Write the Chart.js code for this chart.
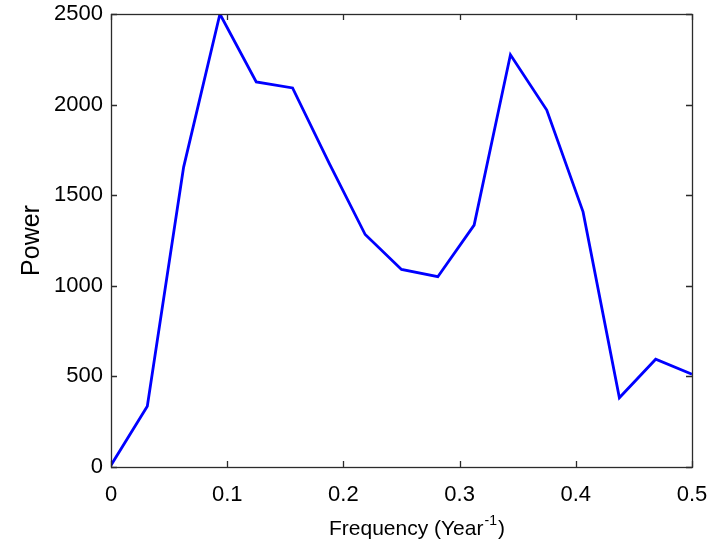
<!DOCTYPE html>
<html>
<head>
<meta charset="utf-8">
<script src="https://cdn.jsdelivr.net/npm/chart.js@4.4.1/dist/chart.umd.min.js"></script>
<style>
    html,body{margin:0;padding:0;background:#fff;}
    #wrap{width:718px;height:544px;position:relative;}
</style>
</head>
<body>
<div id="wrap"><canvas id="powerChart" width="718" height="544"></canvas></div>
<script>

// =============================
// DATA
// =============================

const frequency = [
    0, 0.03125, 0.0625, 0.09375, 0.125, 0.15625, 0.1875, 0.21875, 0.25,
    0.28125, 0.3125, 0.34375, 0.375, 0.40625, 0.4375, 0.46875, 0.5
];

const power = [
    10, 335, 1655, 2500, 2125, 2092, 1680, 1283, 1090,
    1050, 1335, 2275, 1970, 1408, 382, 595, 512
];

const xTicks = [0, 0.1, 0.2, 0.3, 0.4, 0.5];
const yTicks = [0, 500, 1000, 1500, 2000, 2500];

const xTitle = "Frequency (Year";
const xTitleSup = "-1";
const yTitle = "Power";

const axisColor = "#2b2b2b";
const lineColor = "#0000ff";
const tickFont = "Liberation Sans, Arial, sans-serif";

// =============================
// BOX + INWARD TICKS + TITLES
// =============================

const matlabAxes = {

    id:"matlabAxes",

    afterDatasetsDraw(chart){

        const ctx = chart.ctx;
        const a = chart.chartArea;
        const xs = chart.scales.x;
        const ys = chart.scales.y;

        ctx.save();

        ctx.strokeStyle = axisColor;
        ctx.lineWidth = 1.3;

        ctx.strokeRect(a.left + .5, a.top + .5, a.right - a.left, a.bottom - a.top);

        const len = 6;

        ctx.beginPath();

        xTicks.forEach(v=>{
            const px = Math.round(xs.getPixelForValue(v)) + .5;
            ctx.moveTo(px, a.bottom);
            ctx.lineTo(px, a.bottom - len);
            ctx.moveTo(px, a.top);
            ctx.lineTo(px, a.top + len);
        });

        yTicks.forEach(v=>{
            const py = Math.round(ys.getPixelForValue(v)) + .5;
            ctx.moveTo(a.left, py);
            ctx.lineTo(a.left + len, py);
            ctx.moveTo(a.right, py);
            ctx.lineTo(a.right - len, py);
        });

        ctx.stroke();

        // y title
        ctx.fillStyle = "#000";
        ctx.font = "25px " + tickFont;
        ctx.textAlign = "center";
        ctx.textBaseline = "alphabetic";
        ctx.translate(39, (a.top + a.bottom) / 2);
        ctx.rotate(-Math.PI / 2);
        ctx.fillText(yTitle, 0, 0);
        ctx.setTransform(1,0,0,1,0,0);

        // x title with superscript
        let x0 = 329;
        const base = 535;

        ctx.textAlign = "left";
        ctx.font = "21px " + tickFont;
        const w1 = ctx.measureText(xTitle).width;
        ctx.fillText(xTitle, x0, base);
        x0 += w1 + 1;
        ctx.font = "14px " + tickFont;
        const w2 = ctx.measureText(xTitleSup).width;
        ctx.fillText(xTitleSup, x0, base - 10);
        x0 += w2 + 1;
        ctx.font = "21px " + tickFont;
        ctx.fillText(")", x0, base);

        ctx.restore();

    }

};

// =============================
// CHART
// =============================

const ctx = document.getElementById("powerChart").getContext("2d");

new Chart(ctx,{

    type:"scatter",

    data:{

        datasets:[{

            data:frequency.map((f,i)=>({x:f, y:power[i]})),

            showLine:true,

            borderColor:lineColor,

            borderWidth:2.8,

            tension:0,

            pointRadius:0,

            fill:false

        }]

    },

    options:{

        responsive:false,

        animation:false,

        events:[],

        layout:{
            padding:{left:0, top:14, right:26, bottom:0}
        },

        plugins:{
            legend:{display:false},
            tooltip:{enabled:false}
        },

        scales:{

            x:{

                type:"linear",

                min:0,

                max:0.5,

                afterBuildTicks(s){
                    s.ticks = xTicks.map(v=>({value:v}));
                },

                afterFit(s){
                    s.height = 77;
                    s.paddingLeft = 0;
                    s.paddingRight = 0;
                },

                grid:{
                    display:false,
                    drawTicks:false
                },

                border:{display:false},

                ticks:{
                    color:"#000",
                    padding:15,
                    maxRotation:0,
                    autoSkip:false,
                    font:{family:tickFont, size:22},
                    callback:v=>String(v)
                }

            },

            y:{

                min:0,

                max:2500,

                afterBuildTicks(s){
                    s.ticks = yTicks.map(v=>({value:v}));
                },

                afterFit(s){
                    s.width = 111;
                    s.paddingTop = 0;
                    s.paddingBottom = 0;
                },

                grid:{
                    display:false,
                    drawTicks:false
                },

                border:{display:false},

                ticks:{
                    color:"#000",
                    padding:8,
                    autoSkip:false,
                    font:{family:tickFont, size:22},
                    callback:v=>String(v)
                }

            }

        }

    },

    plugins:[matlabAxes]

});

</script>
</body>
</html>
